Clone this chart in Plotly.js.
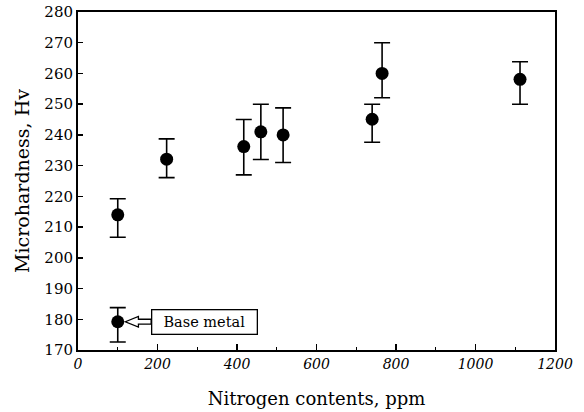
<!DOCTYPE html>
<html>
<head>
<meta charset="utf-8">
<script src="https://cdn.plot.ly/plotly-3.0.1.min.js"></script>
<style>html,body{margin:0;padding:0;background:#fff}#chart{width:584px;height:412px}</style>
</head>
<body>
<div id="chart"></div>
<script>
// Data
const nitrogen = [100, 100, 223, 417, 460, 516, 740, 765, 1112];
const hardness = [214, 179.2, 232.1, 236.2, 241, 240, 245.1, 260, 258.1];
const errUpper = [5.2, 4.6, 6.6, 8.8, 9, 8.8, 4.9, 10, 5.7];
const errLower = [7.3, 6.6, 6, 9.2, 9, 9, 7.5, 7.9, 8.1];
const baseMetalLabel = "Base metal";

const serif = "DejaVu Serif, serif";

const trace = {
  x: nitrogen, y: hardness, type: "scatter", mode: "markers",
  marker: {color: "#000", size: 13},
  error_y: {type: "data", symmetric: false, array: errUpper, arrayminus: errLower,
            color: "#000", thickness: 1.6, width: 8},
  showlegend: false, hoverinfo: "none"
};

// hollow arrow pointing to base metal point
const bx = nitrogen[1], by = hardness[1];
const tipX = bx + 19, headX = bx + 52, tailX = bx + 84;
const hh = 1.75, sh = 0.8;
const arrowPath = `M ${tipX} ${by} L ${headX} ${by + hh} L ${headX} ${by + sh} L ${tailX} ${by + sh} L ${tailX} ${by - sh} L ${headX} ${by - sh} L ${headX} ${by - hh} Z`;

const layout = {
  width: 584, height: 412,
  margin: {l: 78, r: 29, t: 12, b: 62},
  paper_bgcolor: "#fff", plot_bgcolor: "#fff",
  font: {family: serif, color: "#000", size: 14},
  xaxis: {
    range: [0, 1200], dtick: 200, tick0: 0,
    ticks: "inside", ticklen: 6, tickwidth: 1.5, tickcolor: "#000",
    minor: {dtick: 100, ticks: "inside", ticklen: 3, tickwidth: 1.2, tickcolor: "#000"},
    showline: true, linecolor: "#000", linewidth: 2, mirror: true,
    showgrid: false, zeroline: false,
    tickfont: {family: serif, size: 14, style: "italic"},
    title: {text: "Nitrogen contents, ppm", font: {family: serif, size: 18}, standoff: 22}
  },
  yaxis: {
    range: [170, 280], dtick: 10, tick0: 170,
    ticks: "inside", ticklen: 5, tickwidth: 1.5, tickcolor: "#000",
    showline: true, linecolor: "#000", linewidth: 2, mirror: true,
    showgrid: false, zeroline: false,
    tickfont: {family: serif, size: 15},
    title: {text: "Microhardness, Hv", font: {family: serif, size: 19}, standoff: 10}
  },
  shapes: [{
    type: "path", xref: "x", yref: "y", path: arrowPath,
    line: {color: "#000", width: 1.3}, fillcolor: "#fff"
  }],
  annotations: [{
    x: tailX, y: by, xref: "x", yref: "y", xanchor: "left", yanchor: "middle",
    text: baseMetalLabel, showarrow: false, width: 100, height: 19, align: "center",
    font: {family: serif, size: 14.5, color: "#000"},
    bordercolor: "#000", borderwidth: 1.3, borderpad: 2, bgcolor: "#fff"
  }]
};

Plotly.newPlot("chart", [trace], layout, {displayModeBar: false, staticPlot: true});
</script>
</body>
</html>
